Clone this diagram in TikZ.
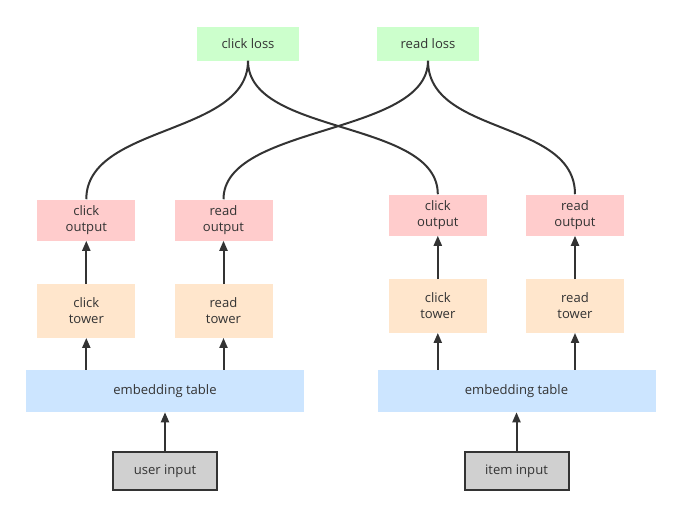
\documentclass[tikz,border=0pt]{standalone}
\usepackage{fontspec}
\setmainfont{Open Sans}
\usetikzlibrary{arrows.meta}
\definecolor{lossgreen}{HTML}{CCFFCC}
\definecolor{outpink}{HTML}{FFCCCC}
\definecolor{towerpeach}{HTML}{FFE6CC}
\definecolor{embblue}{HTML}{CCE5FF}
\definecolor{inputgray}{HTML}{D0D0D0}
\definecolor{inkgray}{HTML}{333333}
\begin{document}
\begin{tikzpicture}[x=0.75pt,y=-0.75pt,
  box/.style={inner sep=0pt,align=center,text=inkgray,
    font=\fontsize{9.8}{12}\selectfont},
  loss/.style={box,fill=lossgreen,minimum width=76.5pt,minimum height=25.5pt},
  output/.style={box,fill=outpink,minimum width=73.5pt,minimum height=30.75pt},
  tower/.style={box,fill=towerpeach,minimum width=73.5pt,minimum height=40pt},
  embed/.style={box,fill=embblue,minimum width=208.5pt,minimum height=31.5pt},
  input/.style={box,fill=inputgray,draw=inkgray,line width=1.5pt,
    minimum width=78pt,minimum height=28.5pt},
  arr/.style={draw=inkgray,line width=1.5pt,-{Triangle[length=7.5pt,width=6pt]}},
  link/.style={draw=inkgray,line width=1.5pt}]
  \useasboundingbox (0,0) rectangle (681,515);

  % losses
  \node[loss] (cl) at (248,43.5) {click loss};
  \node[loss] (rl) at (428,43.5) {read loss};

  % user side
  \node[output] (co1) at (86.3,220) {click\\output};
  \node[output] (ro1) at (223.5,220) {read\\output};
  \node[tower] (ct1) at (86.3,311) {click\\tower};
  \node[tower] (rt1) at (223.5,311) {read\\tower};
  \node[embed] (emb1) at (165,391) {embedding table};
  \node[input] (user) at (165,471) {user input};

  % item side
  \node[output] (co2) at (437.8,215) {click\\output};
  \node[output] (ro2) at (575,215) {read\\output};
  \node[tower] (ct2) at (437.8,306) {click\\tower};
  \node[tower] (rt2) at (575,306) {read\\tower};
  \node[embed] (emb2) at (516.5,391) {embedding table};
  \node[input] (item) at (516.5,471) {item input};

  % arrows
  \draw[arr] (user) -- (emb1);
  \draw[arr] (item) -- (emb2);
  \foreach \t in {ct1,rt1} \draw[arr] (\t |- emb1.north) -- (\t.south);
  \foreach \t in {ct2,rt2} \draw[arr] (\t |- emb2.north) -- (\t.south);
  \draw[arr] (ct1) -- (co1);
  \draw[arr] (rt1) -- (ro1);
  \draw[arr] (ct2) -- (co2);
  \draw[arr] (rt2) -- (ro2);

  % loss links
  \draw[link] (cl.south) .. controls +(0,75) and +(0,-75) .. (co1.north);
  \draw[link] (cl.south) .. controls +(0,75) and +(0,-75) .. (co2.north);
  \draw[link] (rl.south) .. controls +(0,75) and +(0,-75) .. (ro1.north);
  \draw[link] (rl.south) .. controls +(0,75) and +(0,-75) .. (ro2.north);
\end{tikzpicture}
\end{document}
